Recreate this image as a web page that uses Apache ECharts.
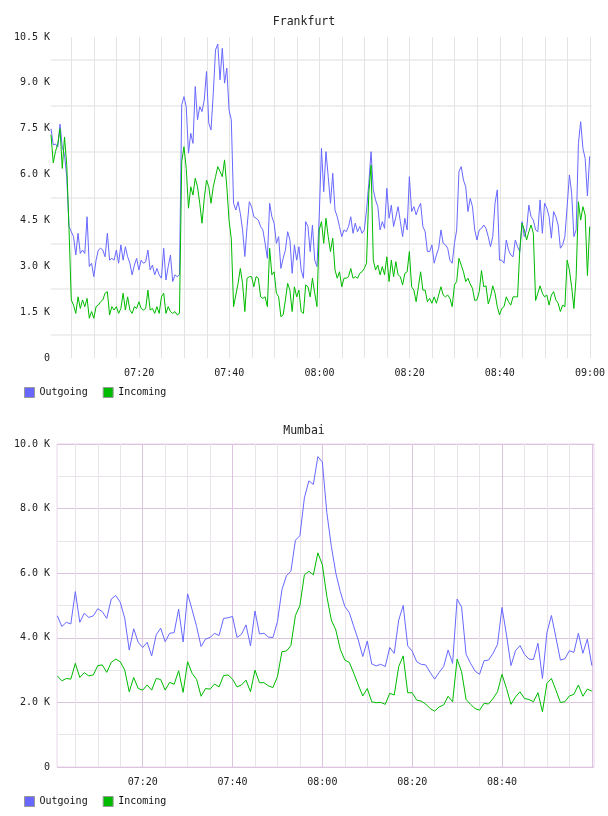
<!DOCTYPE html>
<html lang="en">
<head>
    <meta charset="UTF-8">
    <title>Traffic</title>
    <script src="https://cdn.jsdelivr.net/npm/echarts@6/dist/echarts.min.js"></script>
    <style>
        body { margin: 0; background: #fff; }
    </style>
</head>
<body>
   <div id="main" style="width: 608px;height:816px;"></div>
   <script type="text/javascript">
       // minutes after 07:00
       var frankStart = 0.44, frankStep = 0.5;
       var mumbaiStart = 1, mumbaiStep = 1;

       // Frankfurt, K
       var frankOutgoing = [
           7.5, 6.97, 7.0, 6.9, 7.65, 6.9, 6.65, 5.9, 4.3, 4.13,
           3.97, 3.37, 4.08, 3.42, 3.53, 3.42, 4.62, 2.99, 3.1, 2.66,
           3.2, 3.53, 3.59, 3.53, 3.31, 4.08, 3.2, 3.26, 3.2, 3.53,
           3.1, 3.7, 3.2, 3.64, 3.31, 3.1, 2.72, 3.04, 3.26, 2.88,
           3.2, 3.1, 3.15, 3.53, 2.88, 3.04, 2.72, 2.93, 2.72, 2.61,
           3.59, 2.55, 2.99, 3.37, 2.5, 2.72, 2.66, 2.72, 8.28, 8.55,
           8.22, 6.7, 7.35, 7.02, 8.88, 7.79, 8.22, 8.06, 8.44, 9.37,
           7.68, 7.46, 8.66, 10.08, 10.27, 9.1, 10.13, 8.99, 9.48, 8.11,
           7.79, 5.06, 4.84, 5.11, 4.73, 4.19, 3.32, 4.3, 5.11, 4.95,
           4.62, 4.57, 4.51, 4.3, 4.19, 3.75, 3.26, 5.06, 4.62, 4.41,
           3.75, 3.97, 2.93, 3.26, 3.53, 4.13, 3.86, 2.77, 3.7, 3.2,
           3.64, 2.88, 2.61, 4.46, 4.3, 3.48, 4.35, 3.2, 2.99, 4.62,
           6.86, 5.44, 6.75, 5.93, 5.06, 6.04, 4.84, 4.62, 4.3, 3.97,
           4.19, 4.13, 4.3, 4.62, 4.08, 4.41, 4.13, 4.3, 4.08, 4.19,
           4.84, 5.71, 6.75, 5.5, 5.17, 4.95, 4.19, 4.46, 4.24, 5.55,
           4.57, 5.0, 4.3, 4.62, 4.95, 4.46, 3.97, 4.57, 4.19, 5.93,
           4.79, 4.95, 4.68, 4.9, 5.06, 4.3, 4.13, 3.48, 3.48, 3.7,
           3.1, 3.37, 3.59, 4.19, 3.75, 3.7, 3.59, 3.2, 3.1, 3.75,
           4.19, 6.1, 6.26, 5.82, 5.6, 4.79, 5.22, 4.95, 4.19, 3.86,
           4.19, 4.24, 4.35, 4.24, 3.97, 3.64, 3.97, 5.06, 5.5, 3.2,
           3.2, 3.1, 3.86, 3.53, 3.37, 3.31, 3.86, 3.64, 3.48, 4.46,
           3.97, 4.19, 5.0, 4.62, 4.51, 4.19, 4.13, 5.17, 4.08, 5.06,
           4.9, 4.62, 3.92, 4.79, 4.62, 4.35, 3.59, 3.7, 3.97, 4.95,
           5.99, 5.39, 3.97, 4.19, 7.02, 7.73, 6.86, 6.53, 5.3, 6.6
       ];
       var frankIncoming = [
           7.3, 6.38, 6.76, 7.0, 7.5, 6.2, 7.23, 6.3, 4.2, 1.9,
           1.73, 1.46, 2.0, 1.62, 1.9, 1.68, 1.95, 1.3, 1.52, 1.3,
           1.68, 1.73, 1.84, 1.9, 2.12, 2.17, 1.41, 1.68, 1.57, 1.68,
           1.46, 1.62, 2.12, 1.57, 2.0, 1.57, 1.46, 1.68, 1.62, 1.84,
           1.62, 1.57, 1.62, 2.22, 1.57, 1.62, 1.46, 1.68, 1.46, 2.0,
           2.12, 1.46, 1.68, 1.52, 1.46, 1.52, 1.41, 1.46, 6.42, 6.91,
           6.2, 4.9, 5.6, 5.33, 5.88, 5.6, 5.06, 4.41, 5.22, 5.82,
           5.6, 5.06, 5.6, 5.93, 6.26, 6.1, 5.93, 6.48, 5.6, 4.5,
           3.9, 1.68, 2.06, 2.44, 2.93, 2.44, 1.52, 2.61, 2.66, 2.66,
           2.33, 2.66, 2.61, 2.0, 1.95, 2.0, 1.68, 3.59, 2.72, 2.82,
           2.12, 2.0, 1.35, 1.41, 1.9, 2.44, 2.22, 1.52, 2.33, 2.0,
           2.22, 1.52, 1.46, 2.39, 2.33, 2.0, 2.61, 2.12, 1.68, 4.19,
           4.46, 3.75, 4.57, 3.97, 3.48, 3.92, 2.88, 2.61, 2.82, 2.33,
           2.61, 2.61, 2.66, 2.93, 2.61, 2.66, 2.61, 2.77, 2.82, 2.93,
           3.1, 5.39, 6.31, 3.2, 2.88, 3.04, 2.72, 2.99, 2.72, 3.31,
           2.5, 3.2, 2.66, 3.15, 2.72, 2.66, 2.39, 2.77, 2.82, 3.48,
           2.33, 2.22, 1.84, 2.33, 2.82, 2.22, 2.22, 1.84, 1.95, 1.79,
           2.0, 1.79, 2.06, 2.33, 2.06, 2.0, 2.06, 1.95, 1.68, 2.39,
           2.5, 3.26, 3.04, 2.82, 2.5, 2.61, 2.42, 2.28, 1.88, 1.9,
           2.17, 2.86, 2.33, 2.36, 1.77, 2.0, 2.36, 2.12, 1.68, 1.41,
           1.62, 1.68, 2.0, 1.84, 1.73, 2.0, 2.0, 2.0, 3.53, 4.41,
           4.19, 3.86, 4.13, 4.35, 4.08, 1.88, 2.12, 2.36, 2.12, 2.0,
           2.06, 1.73, 2.06, 2.17, 1.9, 1.79, 1.52, 1.73, 1.68, 3.2,
           2.88, 2.33, 1.62, 2.66, 5.11, 4.51, 4.95, 4.68, 2.7, 4.3
       ];

       // Mumbai, K
       var mumbaiOutgoing = [
           4.68, 4.35, 4.48, 4.43, 5.43, 4.48, 4.76, 4.63, 4.68, 4.90,
           4.81, 4.60, 5.20, 5.31, 5.10, 4.61, 3.62, 4.28, 3.86, 3.70,
           3.86, 3.44, 4.09, 4.30, 3.88, 4.14, 4.16, 4.89, 3.87, 5.36,
           4.87, 4.35, 3.73, 3.96, 4.01, 4.14, 4.07, 4.60, 4.62, 4.66,
           4.01, 4.11, 4.40, 3.75, 4.83, 4.12, 4.14, 4.02, 4.01, 4.50,
           5.49, 5.92, 6.06, 7.02, 7.16, 8.33, 8.86, 8.75, 9.61, 9.44,
           7.87, 6.83, 6.00, 5.43, 4.97, 4.78, 4.35, 3.93, 3.42, 3.90,
           3.19, 3.13, 3.18, 3.11, 3.70, 3.52, 4.55, 5.00, 3.75, 3.59,
           3.26, 3.18, 3.16, 2.93, 2.72, 2.93, 3.11, 3.62, 3.21, 5.20,
           4.95, 3.49, 3.21, 2.97, 2.87, 3.29, 3.31, 3.52, 3.80, 4.94,
           4.09, 3.14, 3.60, 3.76, 3.49, 3.34, 3.33, 3.83, 2.74, 4.16,
           4.69, 4.01, 3.31, 3.35, 3.60, 3.55, 4.14, 3.52, 3.96, 3.14
       ];
       var mumbaiIncoming = [
           2.82, 2.67, 2.74, 2.72, 3.21, 2.77, 2.92, 2.82, 2.85, 3.14,
           3.16, 2.93, 3.24, 3.34, 3.26, 3.0, 2.33, 2.77, 2.43, 2.38,
           2.54, 2.38, 2.74, 2.71, 2.38, 2.62, 2.56, 2.98, 2.31, 3.26,
           2.9, 2.71, 2.19, 2.43, 2.41, 2.57, 2.48, 2.83, 2.85, 2.72,
           2.48, 2.54, 2.69, 2.33, 3.0, 2.61, 2.61, 2.51, 2.46, 2.8,
           3.57, 3.59, 3.76, 4.69, 5.0, 5.95, 6.06, 5.95, 6.63, 6.26,
           5.28, 4.55, 4.24, 3.64, 3.31, 3.24, 2.9, 2.54, 2.2, 2.43,
           2.02, 1.99, 2.0, 1.94, 2.28, 2.23, 3.11, 3.44, 2.3, 2.3,
           2.07, 2.04, 1.95, 1.81, 1.73, 1.86, 1.92, 2.19, 2.02, 3.34,
           2.95, 2.09, 1.94, 1.81, 1.76, 1.97, 1.95, 2.12, 2.33, 2.87,
           2.43, 1.94, 2.17, 2.33, 2.12, 2.09, 2.02, 2.3, 1.71, 2.59,
           2.74, 2.38, 2.0, 2.02, 2.2, 2.25, 2.54, 2.19, 2.41, 2.35
       ];

       // ticks
       var fiveMinTicks = [5, 10, 15, 20, 25, 30, 35, 40, 45, 50, 55, 60,
                           65, 70, 75, 80, 85, 90, 95, 100, 105, 110, 115, 120];
       var frankXLabels = [20, 40, 60, 80, 100, 120];
       var mumbaiXLabels = [20, 40, 60, 80, 100];

       function pairs(start, step, values) {
           var out = [];
           for (var i = 0; i < values.length; i++) {
               out.push([start + i * step, values[i]]);
           }
           return out;
       }

       function clock(m) {
           var h = 7 + Math.floor(m / 60), mm = Math.round(m % 60);
           return (h < 10 ? '0' : '') + h + ':' + (mm < 10 ? '0' : '') + mm;
       }

       function kLabel(v) {
           if (Math.abs(v) < 1e-9) return '0';
           return v.toFixed(1) + ' K';
       }

       function isMultiple(v, step) {
           var r = v / step;
           return Math.abs(r - Math.round(r)) < 1e-6;
       }

       var mono = 'DejaVu Sans Mono';
       var labelStyle = { fontFamily: mono, fontSize: 10, color: '#222' };
       var blue = '#6868ff', green = '#00bb00';
       var mumbaiMajor = '#dcc3df', mumbaiMinor = '#e9e3ea';

       var myChart = echarts.init(document.getElementById('main'));

       var option = {
           animation: false,
           backgroundColor: '#fff',
           title: [
               { text: 'Frankfurt', left: 'center', top: 16, padding: 0,
                 textStyle: { fontFamily: mono, fontSize: 11.5, fontWeight: 'normal', color: '#222' } },
               { text: 'Mumbai', left: 'center', top: 425, padding: 0,
                 textStyle: { fontFamily: mono, fontSize: 11.5, fontWeight: 'normal', color: '#222' } }
           ],
           legend: [
               { left: 24, top: 387, padding: 0, icon: 'rect', itemWidth: 10, itemHeight: 10, itemGap: 15,
                 itemStyle: { borderColor: '#999', borderWidth: 1 },
                 textStyle: { fontFamily: mono, fontSize: 10, color: '#111' },
                 data: ['Outgoing', 'Incoming'] },
               { left: 24, top: 796, padding: 0, icon: 'rect', itemWidth: 10, itemHeight: 10, itemGap: 15,
                 itemStyle: { borderColor: '#999', borderWidth: 1 },
                 textStyle: { fontFamily: mono, fontSize: 10, color: '#111' },
                 data: ['Outgoing', 'Incoming'] }
           ],
           grid: [
               { left: 51, top: 37, width: 542, height: 321 },
               { left: 57, top: 444, width: 537, height: 323, show: true,
                 borderColor: '#e8d6eb', borderWidth: 1 }
           ],
           xAxis: [
               {
                   type: 'value', gridIndex: 0, min: frankStart, max: frankStart + 120,
                   axisLine: { show: false },
                   axisTick: { show: false, customValues: fiveMinTicks },
                   axisLabel: Object.assign({ customValues: frankXLabels, margin: 10, formatter: clock }, labelStyle),
                   splitLine: { show: true, lineStyle: { color: '#e4e4e4', width: 1 } }
               },
               {
                   type: 'value', gridIndex: 1, min: 0.92, max: 120.48,
                   axisLine: { show: false },
                   axisTick: { show: false, customValues: fiveMinTicks },
                   axisLabel: Object.assign({ customValues: mumbaiXLabels, margin: 10, formatter: clock }, labelStyle),
                   splitLine: { show: true, lineStyle: { width: 1,
                       color: [mumbaiMinor, mumbaiMinor, mumbaiMinor, mumbaiMajor] } }
               }
           ],
           yAxis: [
               {
                   // labels every 1.5 K, light rules halfway between them
                   type: 'value', gridIndex: 0, min: 0, max: 10.5, interval: 0.75,
                   axisLine: { show: false },
                   axisTick: { show: false },
                   axisLabel: Object.assign({ margin: 1, formatter: function (v) {
                       return isMultiple(v, 1.5) ? kLabel(v) : '';
                   } }, labelStyle),
                   splitLine: { show: true, lineStyle: { color: ['rgba(0,0,0,0)', '#efefef'], width: 2 } }
               },
               {
                   type: 'value', gridIndex: 1, min: 0, max: 10, interval: 1,
                   axisLine: { show: false },
                   axisTick: { show: false },
                   axisLabel: Object.assign({ margin: 7, formatter: function (v) {
                       return isMultiple(v, 2) ? kLabel(v) : '';
                   } }, labelStyle),
                   splitLine: { show: true, lineStyle: { width: 1, color: [mumbaiMajor, mumbaiMinor] } }
               }
           ],
           series: [
               { name: 'Outgoing', type: 'line', xAxisIndex: 0, yAxisIndex: 0, showSymbol: false,
                 color: blue, lineStyle: { color: blue, width: 1 },
                 data: pairs(frankStart, frankStep, frankOutgoing) },
               { name: 'Incoming', type: 'line', xAxisIndex: 0, yAxisIndex: 0, showSymbol: false,
                 color: green, lineStyle: { color: green, width: 1 },
                 data: pairs(frankStart, frankStep, frankIncoming) },
               { name: 'Outgoing', type: 'line', xAxisIndex: 1, yAxisIndex: 1, showSymbol: false,
                 color: blue, lineStyle: { color: blue, width: 1 },
                 data: pairs(mumbaiStart, mumbaiStep, mumbaiOutgoing) },
               { name: 'Incoming', type: 'line', xAxisIndex: 1, yAxisIndex: 1, showSymbol: false,
                 color: green, lineStyle: { color: green, width: 1 },
                 data: pairs(mumbaiStart, mumbaiStep, mumbaiIncoming) }
           ]
       };

       myChart.setOption(option);
   </script>
</body>
</html>
